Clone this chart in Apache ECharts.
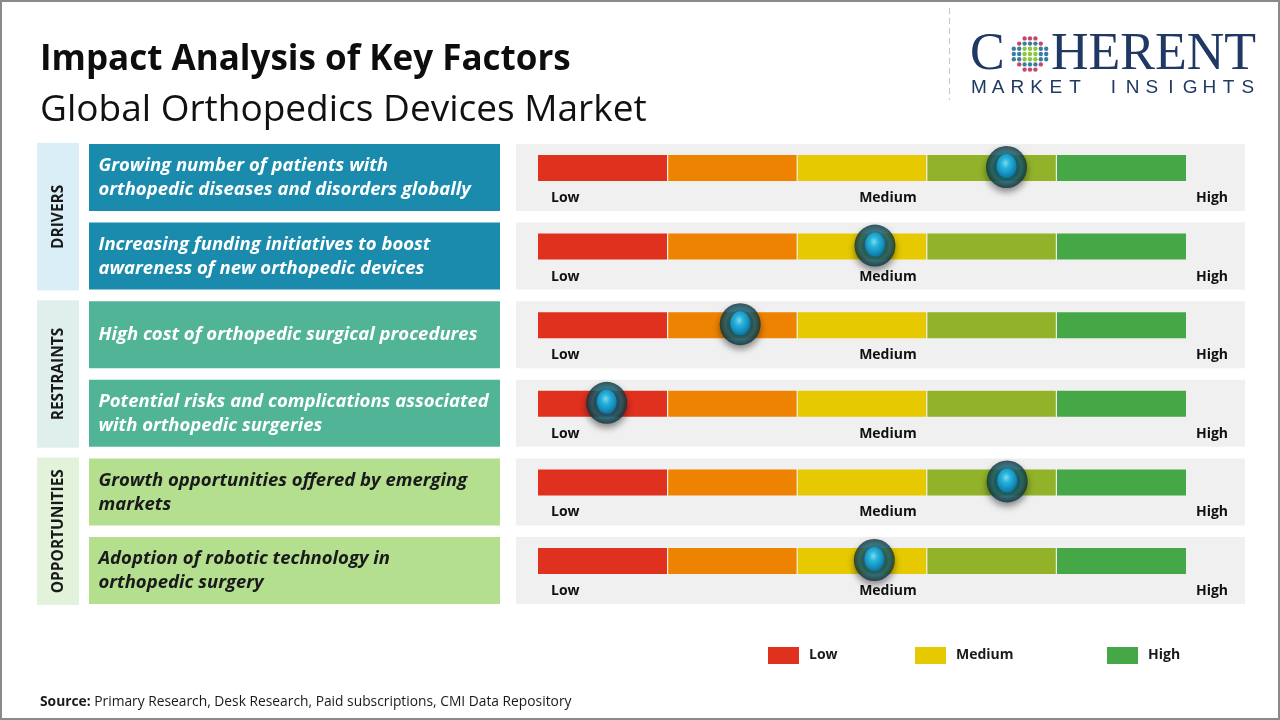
<!DOCTYPE html>
<html><head><meta charset="utf-8">
<script src="https://cdn.jsdelivr.net/npm/echarts@6/dist/echarts.min.js"></script>
<style>html,body{margin:0;padding:0;background:#fff}#c{width:1280px;height:720px}</style>
</head><body><div id="c"></div>
<script>
// ---- data ----
const factors = [
  'Growing number of patients with\northopedic diseases and disorders globally',
  'Increasing funding initiatives to boost\nawareness of new orthopedic devices',
  'High cost of orthopedic surgical procedures',
  'Potential risks and complications associated\nwith orthopedic surgeries',
  'Growth opportunities offered by emerging\nmarkets',
  'Adoption of robotic technology in\northopedic surgery'
];
const groups = ['DRIVERS', 'RESTRAINTS', 'OPPORTUNITIES'];
const factorGroup = [0, 0, 1, 1, 2, 2];
const impact = [72.3, 52.0, 31.2, 10.6, 72.4, 51.9];
const segmentEdges = [0, 20, 40, 60, 80, 100];
const scaleLabels = ['Low', 'Medium', 'High'];
const legendNames = ['Low', 'Medium', 'High'];

// ---- styles ----
const segColors = ['#e0301e', '#ee8302', '#e6c900', '#92b22a', '#45a746'];
const legendColors = ['#e0301e', '#e6c900', '#45a746'];
const groupBg = ['#d9eef7', '#dff0ec', '#e3f2da'];
const factorBg = ['#1a8bad', '#52b496', '#b4df8f'];
const factorFg = ['#ffffff', '#ffffff', '#1a1a1a'];
const FONT = '"Open Sans", "Noto Sans", sans-serif';

function renderRow(params, api) {
  const i = params.dataIndex;
  const p0 = api.coord([0, i]);
  const p1 = api.coord([100, i]);
  const band = api.size([0, 1])[1];
  const c = p0[1];
  const x0 = p0[0], x1 = p1[0];
  const W = x1 - x0;
  const g = factorGroup[i];
  const ch = [];
  if (i === 0 || factorGroup[i - 1] !== g) {
    const n = factorGroup.filter(v => v === g).length;
    const top = c - 34.5, bottom = c + band * (n - 1) + 34.5;
    ch.push({type: 'rect', shape: {x: 37, y: top, width: 42, height: bottom - top}, style: {fill: groupBg[g]}});
    ch.push({type: 'text', x: 58.5, y: (top + bottom) / 2, rotation: Math.PI / 2,
      style: {text: groups[g], fill: '#1a1a1a', font: 'bold 15.5px ' + FONT, align: 'center', verticalAlign: 'middle'}});
  }
  // factor box
  ch.push({type: 'rect', shape: {x: 89, y: c - 33.5, width: 411, height: 67}, style: {fill: factorBg[g]}});
  ch.push({type: 'text', x: 98.5, y: c + 0.5,
    style: {text: factors[i], fill: factorFg[g], font: 'italic bold 18.5px ' + FONT, align: 'left', verticalAlign: 'middle', lineHeight: 24}});
  // panel
  ch.push({type: 'rect', shape: {x: x0 - 22, y: c - 33.5, width: W + 81, height: 67}, style: {fill: '#f0f0f0'}});
  // segments
  for (let s = 0; s < segmentEdges.length - 1; s++) {
    const a = api.coord([segmentEdges[s], i])[0];
    const b = api.coord([segmentEdges[s + 1], i])[0];
    ch.push({type: 'rect', shape: {x: a + (s ? 0.6 : 0), y: c - 22.5, width: b - a - (s ? 0.6 : 0) - (s < 4 ? 0.6 : 0), height: 26},
      style: {fill: segColors[s]}});
  }
  // scale labels
  const lab = {font: 'bold 14px ' + FONT, fill: '#111', verticalAlign: 'middle'};
  ch.push({type: 'text', x: x0 + 13, y: c + 20.5, style: Object.assign({text: scaleLabels[0], align: 'left'}, lab)});
  ch.push({type: 'text', x: x0 + 0.54 * W, y: c + 20.5, style: Object.assign({text: scaleLabels[1], align: 'center'}, lab)});
  ch.push({type: 'text', x: x1 + 26, y: c + 20.5, style: Object.assign({text: scaleLabels[2], align: 'center'}, lab)});
  return {type: 'group', children: ch};
}

// logo globe dots
const globe = [];
const gcx = 1030, gcy = 54;
for (let r = -3; r <= 3; r++) {
  for (let q = -3; q <= 3; q++) {
    const dx = q * 5.4, dy = r * 5.2;
    if (dx * dx + dy * dy > 18.5 * 18.5) continue;
    let col = '#3b7ca2';
    if (Math.abs(r) === 3 || (Math.abs(r) === 2 && Math.abs(q) >= 2)) col = '#c2476b';
    if (Math.abs(r) <= 1 && Math.abs(q) <= 1) col = '#8cc63f';
    globe.push({type: 'circle', shape: {cx: gcx + dx, cy: gcy + dy, r: 2.2}, style: {fill: col}});
  }
}
const mi = 'MARKET INSIGHTS'.split('');
const miChildren = mi.map((ch, k) => ({type: 'text', x: 979 + k * 19.2, y: 88,
  style: {text: ch, font: '19px "Liberation Sans", sans-serif', fill: '#1f3864', align: 'center', verticalAlign: 'middle'}}));

const chart = echarts.init(document.getElementById('c'));
chart.setOption({
  backgroundColor: '#ffffff',
  animation: false,
  title: [
    {text: 'Impact Analysis of Key Factors', left: 35, top: 38,
      textStyle: {fontFamily: FONT, fontWeight: 'bold', fontSize: 35, color: '#0d0d0d'}},
    {text: 'Global Orthopedics Devices Market', left: 35, top: 87,
      textStyle: {fontFamily: FONT, fontWeight: 'normal', fontSize: 37, color: '#111'}}
  ],
  legend: legendNames.map((n, k) => ({
    data: [n], left: [763, 910, 1102][k], top: 642, icon: 'rect', itemWidth: 31, itemHeight: 17,
    selectedMode: false,
    textStyle: {fontFamily: FONT, fontWeight: 'bold', fontSize: 14, color: '#1a1a1a', padding: [0, 0, 0, 5]}
  })),
  grid: {left: 538, width: 648, top: 138.2, height: 471.6, containLabel: false},
  xAxis: {type: 'value', min: 0, max: 100, show: false},
  yAxis: {type: 'category', data: factors.map((f, i) => i), inverse: true, show: false},
  series: [
    {type: 'custom', renderItem: renderRow, data: factors.map((f, i) => [0, i]), z: 2, silent: true},
    {type: 'scatter', data: impact.map((v, i) => [v, i]), symbol: 'circle', symbolSize: [41, 42], symbolOffset: [0, -10.5], z: 10,
      itemStyle: {color: {type: 'radial', x: 0.5, y: 0.5, r: 0.5, colorStops: [
        {offset: 0, color: '#0b3542'}, {offset: 0.55, color: '#0f4552'}, {offset: 0.72, color: '#22616d'},
        {offset: 0.86, color: '#154c58'}, {offset: 1, color: '#0a2d36'}]},
        shadowBlur: 7, shadowColor: 'rgba(0,0,0,0.55)', shadowOffsetY: 4}, silent: true},
    {type: 'scatter', data: impact.map((v, i) => [v, i]), symbol: 'circle', symbolSize: [20, 24], symbolOffset: [0, -11.5], z: 11,
      itemStyle: {color: {type: 'radial', x: 0.45, y: 0.38, r: 0.6, colorStops: [
        {offset: 0, color: '#9cf2ff'}, {offset: 0.35, color: '#2cc3f2'}, {offset: 1, color: '#0a7fb6'}]},
        shadowBlur: 6, shadowColor: 'rgba(0,180,240,0.6)'}, silent: true},
    ...legendNames.map((n, k) => ({type: 'bar', name: n, data: [], itemStyle: {color: legendColors[k]}}))
  ],
  graphic: [
    {type: 'rect', shape: {x: 1, y: 1, width: 1278, height: 718}, style: {fill: 'none', stroke: '#8a8a8a', lineWidth: 2}, silent: true},
    {type: 'line', shape: {x1: 949.5, y1: 8, x2: 949.5, y2: 100}, style: {stroke: '#c9c9c9', lineWidth: 1.2, lineDash: [6, 4]}},
    {type: 'text', x: 970, y: 55, style: {text: 'C', font: '52px "Liberation Serif", serif', fill: '#1f3864', align: 'left', verticalAlign: 'middle'}},
    {type: 'text', x: 1051, y: 55, style: {text: 'HERENT', font: '52px "Liberation Serif", serif', fill: '#1f3864', align: 'left', verticalAlign: 'middle'}},
    {type: 'group', children: globe},
    {type: 'group', children: miChildren},
    {type: 'text', x: 40, y: 702, style: {
      text: '{b|Source:} Primary Research, Desk Research, Paid subscriptions, CMI Data Repository',
      font: '13.8px ' + FONT, fill: '#1a1a1a', verticalAlign: 'middle',
      rich: {b: {fontWeight: 'bold', fontSize: 13.8, fontFamily: FONT, fill: '#1a1a1a'}}}}
  ]
});
</script></body></html>
